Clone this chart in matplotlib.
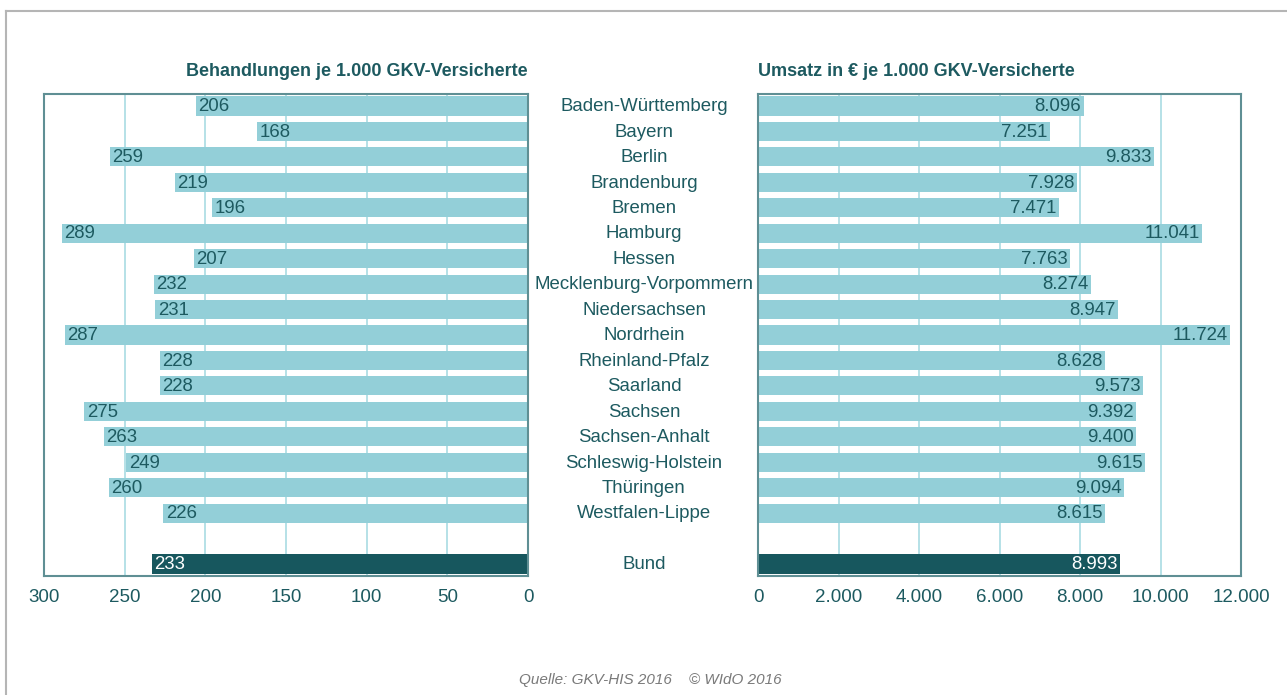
import matplotlib.pyplot as plt
import matplotlib.transforms as mtrans
import numpy as np
from matplotlib.lines import Line2D

# data
laender = ["Baden-Württemberg", "Bayern", "Berlin", "Brandenburg", "Bremen",
           "Hamburg", "Hessen", "Mecklenburg-Vorpommern", "Niedersachsen",
           "Nordrhein", "Rheinland-Pfalz", "Saarland", "Sachsen",
           "Sachsen-Anhalt", "Schleswig-Holstein", "Thüringen", "Westfalen-Lippe"]
behandlungen = [206, 168, 259, 219, 196, 289, 207, 232, 231, 287, 228, 228,
                275, 263, 249, 260, 226]
umsatz = [8096, 7251, 9833, 7928, 7471, 11041, 7763, 8274, 8947, 11724, 8628,
          9573, 9392, 9400, 9615, 9094, 8615]
bund_label = "Bund"
bund_behandlungen = 233
bund_umsatz = 8993

left_ticks = [300, 250, 200, 150, 100, 50, 0]
right_ticks = [0, 2000, 4000, 6000, 8000, 10000, 12000]

plt.rcParams['font.family'] = ['Liberation Sans', 'DejaVu Sans']

LIGHT = '#93cfd8'
DARK = '#17575e'
TXT = '#1d5a60'
GRID = '#a9dbe3'
SPINE = '#5f8f94'
FS = 13.4

W, H = 1287, 695
fig = plt.figure(figsize=(W / 100, H / 100), dpi=100)

# outer frame (top and left only)
fig.add_artist(Line2D([6 / W, 1], [1 - 11 / H] * 2, color='#b5b5b5', lw=1.5))
fig.add_artist(Line2D([6 / W] * 2, [0, 1 - 11 / H], color='#b5b5b5', lw=1.5))

n = len(laender)
ypos = np.arange(n)
bund_y = n + 1

def fmt(v):
    return f"{v:,}".replace(",", ".")

ax_bottom = 1 - 576 / H
ax_h = (576 - 94) / H
axL = fig.add_axes([44 / W, ax_bottom, (528 - 44) / W, ax_h])
axR = fig.add_axes([758 / W, ax_bottom, (1241 - 758) / W, ax_h])

for ax in (axL, axR):
    ax.set_ylim(bund_y + 0.47, -0.47)
    ax.set_yticks([])
    ax.tick_params(axis='x', length=0, labelsize=13.5, labelcolor=TXT, pad=9)
    ax.grid(axis='x', color=GRID, lw=1.2)
    ax.set_axisbelow(True)
    for s in ax.spines.values():
        s.set_color(SPINE)
        s.set_linewidth(1.5)

# left panel
axL.barh(ypos, behandlungen, height=0.75, color=LIGHT)
axL.barh([bund_y], [bund_behandlungen], height=0.75, color=DARK)
axL.set_xlim(300, 0)
axL.set_xticks(left_ticks)
axL.set_xticklabels([str(t) for t in left_ticks])
for y, v in zip(ypos, behandlungen):
    axL.text(v - 1.5, y + 0.03, str(v), ha='left', va='center', fontsize=FS, color=TXT)
axL.text(bund_behandlungen - 1.5, bund_y + 0.03, str(bund_behandlungen), ha='left',
         va='center', fontsize=FS, color='white')

# right panel
axR.barh(ypos, umsatz, height=0.75, color=LIGHT)
axR.barh([bund_y], [bund_umsatz], height=0.75, color=DARK)
axR.set_xlim(0, 12000)
axR.set_xticks(right_ticks)
axR.set_xticklabels([fmt(t) for t in right_ticks])
for y, v in zip(ypos, umsatz):
    axR.text(v - 60, y + 0.03, fmt(v), ha='right', va='center', fontsize=FS, color=TXT)
axR.text(bund_umsatz - 60, bund_y + 0.03, fmt(bund_umsatz), ha='right', va='center',
         fontsize=FS, color='white')

# category names in the middle
tr = mtrans.blended_transform_factory(fig.transFigure, axL.transData)
for y, name in zip(list(ypos) + [bund_y], laender + [bund_label]):
    fig.text(644 / W, y + 0.03, name, transform=tr, ha='center', va='center',
             fontsize=FS, color=TXT)

# titles
fig.text(528 / W, 1 - 71 / H, "Behandlungen je 1.000 GKV-Versicherte",
         ha='right', va='center', fontsize=13, fontweight='bold', color=TXT)
fig.text(758 / W, 1 - 71 / H, "Umsatz in € je 1.000 GKV-Versicherte",
         ha='left', va='center', fontsize=13, fontweight='bold', color=TXT)

# source
fig.text(650 / W, 1 - 680 / H, "Quelle: GKV-HIS 2016    © WIdO 2016",
         ha='center', va='center', fontsize=11, style='italic', color='#7a7a7a',
         family=['Liberation Sans Narrow', 'Liberation Sans', 'DejaVu Sans'])

fig.savefig("out.png", dpi=100)
